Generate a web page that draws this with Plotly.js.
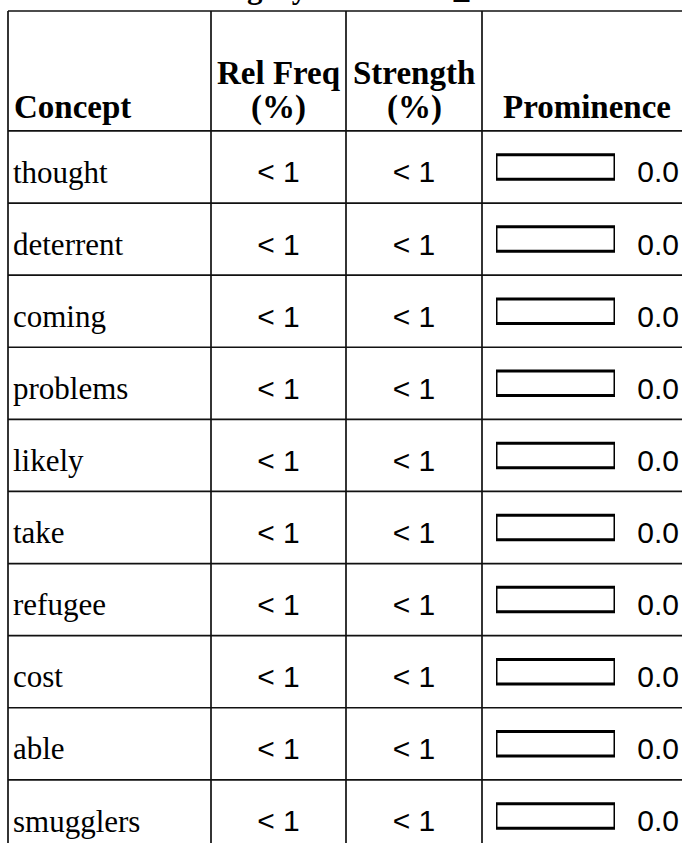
<!DOCTYPE html>
<html>
<head>
<meta charset="utf-8">
<script src="https://cdn.plot.ly/plotly-3.0.1.min.js"></script>
<style>
  html, body { margin: 0; padding: 0; background: #ffffff; }
  #chart { width: 682px; height: 843px; }
</style>
</head>
<body>
<div id="chart"></div>
<script>
// ---- data ----
const concepts = ["thought", "deterrent", "coming", "problems", "likely", "take", "refugee", "cost", "able", "smugglers"];
const relFreqLabels = ["< 1", "< 1", "< 1", "< 1", "< 1", "< 1", "< 1", "< 1", "< 1", "< 1"];
const strengthLabels = ["< 1", "< 1", "< 1", "< 1", "< 1", "< 1", "< 1", "< 1", "< 1", "< 1"];
const prominence = [0.0, 0.0, 0.0, 0.0, 0.0, 0.0, 0.0, 0.0, 0.0, 0.0];
const prominenceMax = 1.0;
const headerLabels = ["Concept", "Rel Freq", "(%)", "Strength", "(%)", "Prominence"];
const titleText = "Category: Deterrent_Measures";

// ---- layout helpers ----
const W = 682, H = 843;
const rowPx = 72.1;          // row height in pixels
const firstRowCenterPx = 167; // centre of first body row
const yTop = -firstRowCenterPx / rowPx;
const yBottom = yTop + H / rowPx;
const pxToY = p => (p - firstRowCenterPx) / rowPx;

const rows = concepts.map((_, i) => i);
const textOffset = 0.11;
const textRows = rows.map(i => i + textOffset);

const colLeft = 8, col1 = 211, col2 = 346, col3 = 482;
const barLeft = 496, barRight = 615;

const serif = "Liberation Serif, Times New Roman, serif";
const sans = "Liberation Sans, Arial, sans-serif";

const traces = [
  {
    type: "scatter", mode: "text", x: concepts.map(() => 13), y: textRows,
    text: concepts, textposition: "middle right",
    textfont: { family: serif, size: 31, color: "#000" },
    hoverinfo: "skip", showlegend: false, cliponaxis: false
  },
  {
    type: "scatter", mode: "text", x: relFreqLabels.map(() => (col1 + col2) / 2), y: textRows,
    text: relFreqLabels, textposition: "middle center",
    textfont: { family: sans, size: 30, color: "#000" },
    hoverinfo: "skip", showlegend: false, cliponaxis: false
  },
  {
    type: "scatter", mode: "text", x: strengthLabels.map(() => (col2 + col3) / 2), y: textRows,
    text: strengthLabels, textposition: "middle center",
    textfont: { family: sans, size: 30, color: "#000" },
    hoverinfo: "skip", showlegend: false, cliponaxis: false
  },
  {
    type: "scatter", mode: "text", x: prominence.map(() => 679), y: textRows,
    text: prominence.map(v => v.toFixed(1)), textposition: "middle left",
    textfont: { family: sans, size: 30, color: "#000" },
    hoverinfo: "skip", showlegend: false, cliponaxis: false
  },
  {
    type: "bar", orientation: "h", xaxis: "x2", yaxis: "y",
    x: prominence.map(() => prominenceMax), y: rows, width: 0.34,
    marker: { color: "#ffffff", line: { color: "#000000", width: 3 } },
    hoverinfo: "skip", showlegend: false
  },
  {
    type: "bar", orientation: "h", xaxis: "x2", yaxis: "y",
    x: prominence, y: rows, width: 0.34,
    marker: { color: "#000000", line: { width: 0 } },
    hoverinfo: "skip", showlegend: false
  }
];

const lineStyle = { color: "#111111", width: 1.7 };
const shapes = [];
// horizontal lines: top border, header bottom, row separators
const hLines = [pxToY(11), -0.5].concat(rows.map(i => i + 0.5));
hLines.forEach(y => shapes.push({ type: "line", xref: "x", yref: "y", x0: colLeft, x1: W + 2, y0: y, y1: y, line: lineStyle }));
[colLeft, col1, col2, col3].forEach(x => shapes.push({ type: "line", xref: "x", yref: "y", x0: x, x1: x, y0: pxToY(11), y1: yBottom + 1, line: lineStyle }));

const hFont = { family: serif, size: 33, color: "#000" };
const annotations = [
  { text: "<b>" + headerLabels[0] + "</b>", x: 12, xanchor: "left", y: pxToY(107), yanchor: "middle" },
  { text: "<b>" + headerLabels[1] + "</b>", x: (col1 + col2) / 2, xanchor: "center", y: pxToY(73), yanchor: "middle" },
  { text: "<b>" + headerLabels[2] + "</b>", x: (col1 + col2) / 2, xanchor: "center", y: pxToY(107), yanchor: "middle" },
  { text: "<b>" + headerLabels[3] + "</b>", x: (col2 + col3) / 2, xanchor: "center", y: pxToY(73), yanchor: "middle" },
  { text: "<b>" + headerLabels[4] + "</b>", x: (col2 + col3) / 2, xanchor: "center", y: pxToY(107), yanchor: "middle" },
  { text: "<b>" + headerLabels[5] + "</b>", x: (col3 + W) / 2 + 5, xanchor: "center", y: pxToY(107), yanchor: "middle" }
].map(a => Object.assign({ xref: "x", yref: "y", showarrow: false, font: hFont }, a));

annotations.push({
  text: "<b>" + titleText + "</b>", xref: "x", yref: "paper", x: 183, xanchor: "left",
  y: 1, yanchor: "bottom", yshift: -7, showarrow: false,
  font: { family: serif, size: 31, color: "#000" }
});

const layout = {
  width: W, height: H,
  margin: { l: 0, r: 0, t: 0, b: 0, pad: 0 },
  paper_bgcolor: "#ffffff", plot_bgcolor: "#ffffff",
  showlegend: false, barmode: "overlay",
  xaxis: { range: [0, W], domain: [0, 1], visible: false, fixedrange: true },
  xaxis2: { range: [0, prominenceMax], domain: [barLeft / W, barRight / W], anchor: "y", visible: false, fixedrange: true },
  yaxis: { range: [yBottom, yTop], visible: false, fixedrange: true },
  shapes: shapes,
  annotations: annotations
};

Plotly.newPlot("chart", traces, layout, { displayModeBar: false, staticPlot: true });
</script>
</body>
</html>
